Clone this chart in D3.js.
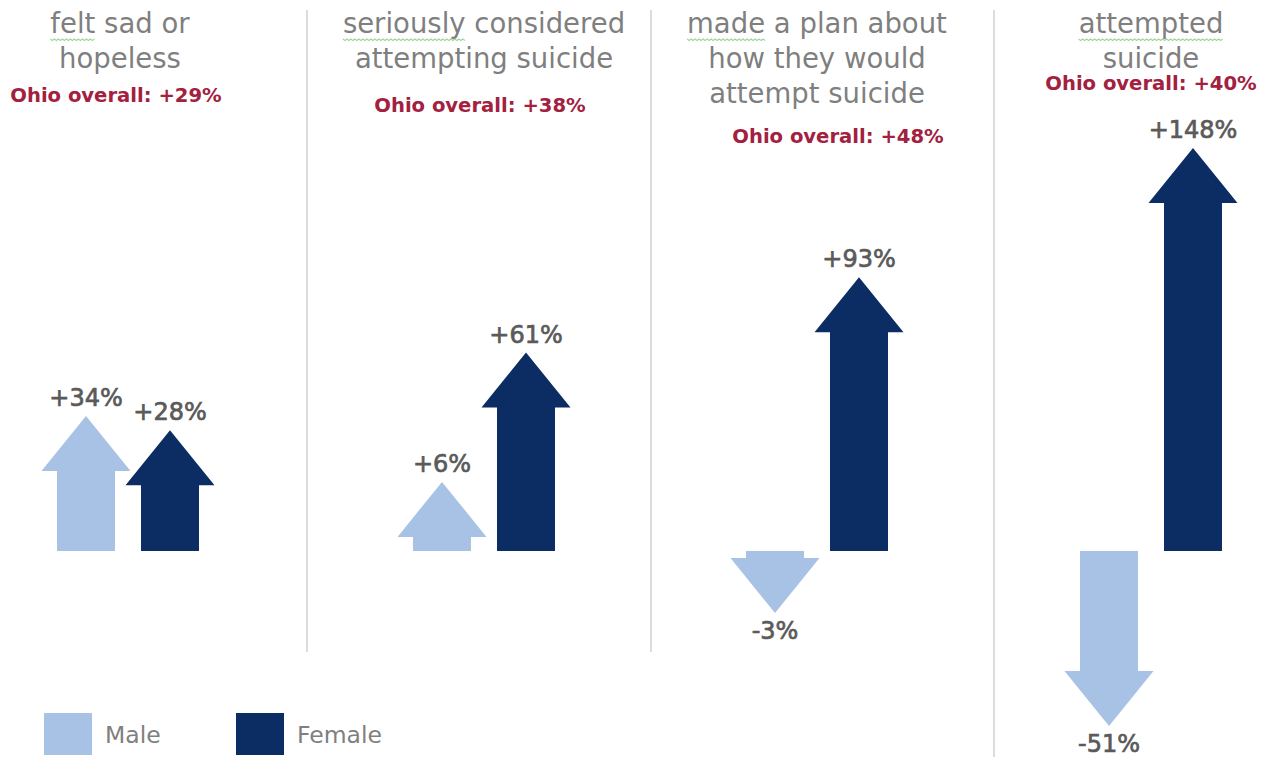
<!DOCTYPE html>
<html>
<head>
<meta charset="utf-8">
<script src="https://cdn.jsdelivr.net/npm/d3@7"></script>
<style>
  html, body { margin: 0; padding: 0; background: #fff; }
  svg { display: block; }
</style>
</head>
<body>
<svg id="chart" width="1269" height="757"></svg>
<script>
// Change in youth risk behaviours by sex, drawn as up/down arrows.
// Arrow shaft length is scaled to the value; the head is a fixed size.

const measures = ["sad", "considered", "plan", "attempted"];
const titles = [
  ["felt sad or", "hopeless"],
  ["seriously considered", "attempting suicide"],
  ["made a plan about", "how they would", "attempt suicide"],
  ["attempted", "suicide"],
];
const overall = [29, 38, 48, 40];
const sexes = ["Male", "Female"];
const maleChange = [34, 6, -3, -51];
const femaleChange = [28, 61, 93, 148];

// --- layout (not data) ---
const W = 1269, H = 757;
const groupCenters = [128, 484, 817, 1151];
const titleDx = [-8, 0, 0, 0];
const noteY = [102, 112, 143, 90];
const noteDx = [-12, -4, 21, 0];
const dividers = [{ x: 307, y2: 652 }, { x: 651, y2: 652 }, { x: 994, y2: 757 }];
const colors = { Male: "#a7c2e5", Female: "#0b2d63" };
const HEAD_H = 55, HEAD_W = 89, BODY_W = 58;
const FONT = "'DejaVu Sans', 'Liberation Sans', sans-serif";

const svg = d3.select("#chart");

const xGroup = d3.scaleOrdinal().domain(measures).range(groupCenters);
const xSex = d3.scalePoint().domain(sexes).range([-42, 42]);
const y = d3.scaleLinear().domain([0, 148]).range([551, 203]);

const rows = measures.flatMap((m, i) => [
  { measure: m, sex: "Male", value: maleChange[i] },
  { measure: m, sex: "Female", value: femaleChange[i] },
]);

// dividers
svg.append("g").selectAll("line").data(dividers).join("line")
  .attr("x1", (d) => d.x).attr("x2", (d) => d.x)
  .attr("y1", 10).attr("y2", (d) => d.y2)
  .attr("stroke", "#dcdcdc").attr("stroke-width", 2);

// titles
const titleG = svg.append("g").attr("font-family", FONT).attr("fill", "#7f7f7f")
  .attr("font-size", 27.5).attr("text-anchor", "middle");
titles.forEach((lines, i) => {
  lines.forEach((line, j) => {
    const t = titleG.append("text")
      .attr("x", xGroup(measures[i]) + titleDx[i])
      .attr("y", 33 + j * 35)
      .text(line);
    if (j === 0) {
      // spell-check squiggle under the first word
      const node = t.node();
      const word = line.split(" ")[0];
      const total = node.getComputedTextLength();
      const wlen = node.getSubStringLength(0, word.length);
      const x0 = xGroup(measures[i]) + titleDx[i] - total / 2;
      const yy = 33 + 6;
      let dpath = `M${x0},${yy}`;
      for (let x = x0 + 2, k = 0; x <= x0 + wlen; x += 2, k++) {
        dpath += ` L${x},${yy + (k % 2 ? 0 : 1.5)}`;
      }
      titleG.append("path").attr("d", dpath).attr("fill", "none")
        .attr("stroke", "#9fd89f").attr("stroke-width", 1.2);
    }
  });
});

// Ohio overall notes
svg.append("g").selectAll("text").data(overall).join("text")
  .attr("x", (d, i) => xGroup(measures[i]) + noteDx[i])
  .attr("y", (d, i) => noteY[i])
  .attr("text-anchor", "middle")
  .attr("font-family", FONT).attr("font-weight", "bold").attr("font-size", 19.6)
  .attr("fill", "#a3203f")
  .text((d) => `Ohio overall: +${d}%`);

// arrows
function arrowPath(d) {
  const cx = xGroup(d.measure) + xSex(d.sex);
  const y0 = y(0), yb = y(d.value);
  const dir = d.value >= 0 ? -1 : 1;
  const tip = yb + dir * HEAD_H;
  const bw = BODY_W / 2, hw = HEAD_W / 2;
  return `M${cx - bw},${y0} L${cx - bw},${yb} L${cx - hw},${yb} L${cx},${tip}` +
         ` L${cx + hw},${yb} L${cx + bw},${yb} L${cx + bw},${y0} Z`;
}

svg.append("g").selectAll("path").data(rows).join("path")
  .attr("d", arrowPath)
  .attr("fill", (d) => colors[d.sex]);

// value labels
const fmt = (v) => (v > 0 ? "+" : "") + v + "%";
svg.append("g").selectAll("text").data(rows).join("text")
  .attr("x", (d) => xGroup(d.measure) + xSex(d.sex))
  .attr("y", (d) => d.value >= 0 ? y(d.value) - HEAD_H - 10 : y(d.value) + HEAD_H + 26)
  .attr("text-anchor", "middle")
  .attr("font-family", FONT).attr("font-size", 24)
  .attr("fill", "#5a5a5a").attr("stroke", "#5a5a5a").attr("stroke-width", 0.7)
  .text((d) => fmt(d.value));

// legend
const legendX = [44, 236];
const leg = svg.append("g").selectAll("g").data(sexes).join("g")
  .attr("transform", (d, i) => `translate(${legendX[i]},713)`);
leg.append("rect").attr("width", 48).attr("height", 42)
  .attr("fill", (d) => colors[d]);
leg.append("text").attr("x", 61).attr("y", 30)
  .attr("font-family", FONT).attr("font-size", 23.5).attr("fill", "#7f7f7f")
  .text((d) => d);
</script>
</body>
</html>
